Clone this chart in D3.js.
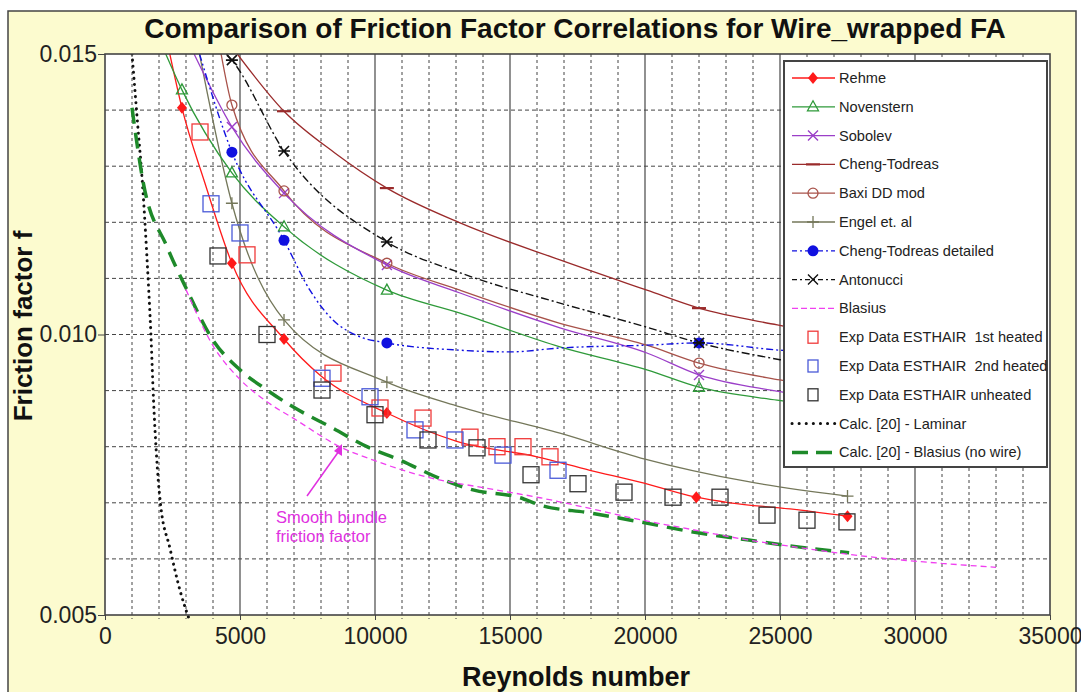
<!DOCTYPE html>
<html>
<head>
<meta charset="utf-8">
<script src="https://cdn.jsdelivr.net/npm/d3@7"></script>
<style>
  html, body { margin: 0; padding: 0; background: #fff; }
  svg { display: block; font-family: Arial, "Liberation Sans", sans-serif; }
  text { white-space: pre; }
</style>
</head>
<body>
<svg id="chart" width="1081" height="692"></svg>
<script>
// ---- data: Reynolds number vs friction factor ----
const xTicks = [0, 5000, 10000, 15000, 20000, 25000, 30000, 35000];
const yTicks = [0.005, 0.010, 0.015];

const rehme = [[2400,0.0150],[2850,0.01404],[3700,0.0127],[4700,0.01127],[6630,0.00992],[8000,0.00926],[10440,0.0086],[13000,0.0081],[16000,0.00782],[17960,0.00758],[19810,0.00737],[21900,0.0071],[23150,0.0070],[25370,0.00689],[27500,0.00676]];
const rehmeMarks = [2850, 4700, 6630, 10440, 21900, 27500];

const novenstern = [[2250,0.0150],[2850,0.01436],[4700,0.01288],[6630,0.01192],[10440,0.01079],[13150,0.01038],[16850,0.00978],[20070,0.00937],[22000,0.00906],[24890,0.00883],[28000,0.00865]];
const novensternMarks = [2850, 4700, 6630, 10440, 22000];

const sobolev = [[3300,0.0150],[4700,0.0137],[6630,0.01252],[10440,0.01124],[13150,0.01074],[16850,0.01012],[20070,0.00967],[22000,0.00928],[25000,0.00898],[28000,0.00875]];
const sobolevMarks = [4700, 6630, 10440, 22000];

const chengTodreas = [[4900,0.0150],[6630,0.01398],[8500,0.01324],[10440,0.01261],[13150,0.01199],[16850,0.01133],[20070,0.01079],[22000,0.01047],[24900,0.01017],[28000,0.0099]];
const chengTodreasMarks = [6630, 10440, 22000];

const baxi = [[4300,0.0150],[4700,0.01409],[6630,0.01256],[10440,0.01127],[13150,0.01079],[16850,0.0102],[20070,0.00981],[22000,0.00949],[25000,0.00919],[28000,0.00897]];
const baxiMarks = [4700, 6630, 10440, 22000];

const engel = [[3500,0.0150],[4700,0.01234],[6630,0.01026],[10440,0.00915],[13150,0.00871],[16850,0.00824],[20000,0.00778],[23780,0.00738],[27500,0.00712]];
const engelMarks = [4700, 6630, 10440, 27500];

const ctDetailed = [[3500,0.0150],[4700,0.01325],[6630,0.01168],[7590,0.01079],[8440,0.01026],[9440,0.00996],[10440,0.00985],[13150,0.00972],[15000,0.00969],[16850,0.00976],[20070,0.00981],[22000,0.00985],[25000,0.00972],[28000,0.00965]];
const ctDetailedMarks = [4700, 6630, 10440, 22000];

const antonucci = [[4500,0.0150],[4700,0.01489],[6630,0.01327],[10440,0.01165],[13150,0.0111],[16850,0.01056],[20070,0.01013],[22000,0.00985],[25000,0.00955],[28000,0.0093]];
const antonucciMarks = [4700, 6630, 10440, 22000];

const blasius = [[3000,0.0108],[4000,0.0098],[5000,0.0092],[6000,0.0088],[7000,0.0085],[8700,0.0080],[10000,0.00775],[12000,0.00745],[14000,0.00727],[16110,0.00709],[17960,0.0069],[19810,0.0067],[21780,0.00652],[23780,0.00634],[25740,0.0062],[27560,0.00608],[29500,0.00598],[31000,0.00592],[33000,0.00585]];

const laminar = [[1000,0.0150],[1200,0.0138],[1400,0.0126],[1550,0.0114],[1700,0.0100],[1800,0.0088],[1900,0.0079],[2050,0.0070],[2400,0.0062],[2800,0.0054],[3150,0.00488]];

const blasiusNoWire = [[1000,0.01404],[1400,0.01275],[2300,0.01156],[3040,0.01079],[4000,0.0099],[5000,0.00937],[6000,0.00901],[6960,0.00871],[8440,0.00833],[9700,0.008],[10930,0.00776],[12520,0.00741],[13630,0.00723],[15370,0.00709],[16110,0.00696],[17960,0.00682],[19810,0.00666],[21780,0.00648],[23780,0.00634],[25740,0.00621],[27560,0.00611]];

const exp1stHeated = [[3519,0.01361],[5259,0.01142],[8444,0.00931],[10185,0.00869],[11778,0.00851],[13518,0.00817],[14518,0.0080],[15481,0.0080],[16481,0.00782]];
const exp2ndHeated = [[3926,0.01233],[5000,0.01181],[8037,0.00922],[9815,0.00889],[11481,0.0083],[12963,0.00812],[14740,0.00785],[16778,0.00758]];
const expUnheated = [[4185,0.0114],[6000,0.0100],[8037,0.00901],[10000,0.00857],[11963,0.00812],[13778,0.00798],[15778,0.0075],[17519,0.00734],[19222,0.00719],[21037,0.0071],[22778,0.0071],[24519,0.00678],[26000,0.00669],[27481,0.00666]];

// ---- layout ----
const svg = d3.select("#chart");
const W = 1081, H = 692;
const x = d3.scaleLinear().domain([0, 35000]).range([105, 1050]);
const y = d3.scaleLinear().domain([0.005, 0.015]).range([615, 54]);
const [x0, x1] = x.range();
const [y0, y1] = y.range();
const FONT = "Arial, 'Liberation Sans', sans-serif";

// page background and outer frame
svg.append("rect").attr("width", W).attr("height", H).attr("fill", "#fff");
svg.append("rect").attr("x", 8).attr("y", 11).attr("width", 1068).attr("height", 690)
  .attr("fill", "#fcfbcf").attr("stroke", "#444").attr("stroke-width", 1.5);

// plot area
svg.append("rect").attr("x", x0).attr("y", y1).attr("width", x1 - x0).attr("height", y0 - y1)
  .attr("fill", "#fff");

// grid
const grid = svg.append("g");
d3.range(1000, 35000, 1000).forEach(v => {
  const major = v % 5000 === 0;
  grid.append("line").attr("x1", x(v)).attr("x2", x(v)).attr("y1", y1).attr("y2", y0 + (major ? 0 : 4))
    .attr("stroke", major ? "#555" : "#444").attr("stroke-width", major ? 1.3 : 1)
    .attr("stroke-dasharray", major ? null : "3,3");
});
d3.range(0.006, 0.0149, 0.001).forEach(v => {
  grid.append("line").attr("x1", x0).attr("x2", x1).attr("y1", y(v)).attr("y2", y(v))
    .attr("stroke", "#444").attr("stroke-width", 1).attr("stroke-dasharray", "4,3");
});

// axes
const xAxis = svg.append("g").attr("transform", `translate(0,${y0})`)
  .call(d3.axisBottom(x).tickValues(xTicks).tickSize(5).tickFormat(d3.format("d")));
xAxis.select(".domain").remove();
xAxis.selectAll("line").attr("stroke", "#444");
xAxis.selectAll("text").attr("font-size", 23).attr("fill", "#222").attr("y", 0).attr("dy", 29)
  .attr("font-family", FONT);

const yAxis = svg.append("g").attr("transform", `translate(${x0},0)`)
  .call(d3.axisLeft(y).tickValues(yTicks).tickSize(7).tickFormat(d3.format(".3f")));
yAxis.select(".domain").remove();
yAxis.selectAll("line").attr("stroke", "#444");
yAxis.selectAll("text").attr("font-size", 23).attr("fill", "#222").attr("x", -8)
  .attr("font-family", FONT);

// curves
const defs = svg.append("defs");
defs.append("clipPath").attr("id", "plotClip").append("rect")
  .attr("x", x0).attr("y", y1).attr("width", x1 - x0).attr("height", y0 - y1 + 12);

const line = d3.line().x(d => x(d[0])).y(d => y(d[1])).curve(d3.curveMonotoneX);
const curves = svg.append("g").attr("clip-path", "url(#plotClip)");

function drawCurve(pts, color, width, dash, round) {
  curves.append("path").attr("d", line(pts)).attr("fill", "none")
    .attr("stroke", color).attr("stroke-width", width)
    .attr("stroke-dasharray", dash || null).attr("stroke-linecap", round ? "round" : "butt");
}

const colors = {
  rehme: "#ff1a1a", novenstern: "#2f9a3a", sobolev: "#9b3fc8", cheng: "#9a2b2b",
  baxi: "#a8524a", engel: "#74775a", ctd: "#1010e0", anton: "#111",
  blasius: "#f040f0", laminar: "#111", noWire: "#1e8a2a",
  exp1: "#f03a3a", exp2: "#4a5ad8", exp0: "#333"
};

drawCurve(laminar, colors.laminar, 3, "0.1,6", true);
drawCurve(blasiusNoWire, colors.noWire, 3.5, "16,9");
drawCurve(blasius, colors.blasius, 1.3, "6,4");
drawCurve(engel, colors.engel, 1.3);
drawCurve(rehme, colors.rehme, 1.3);
drawCurve(novenstern, colors.novenstern, 1.3);
drawCurve(baxi, colors.baxi, 1.3);
drawCurve(sobolev, colors.sobolev, 1.3);
drawCurve(chengTodreas, colors.cheng, 1.3);
drawCurve(ctDetailed, colors.ctd, 1.4, "7,3,2,3,2,3");
drawCurve(antonucci, colors.anton, 1.4, "8,3,2,3");

// marker shapes
function marker(g, type, cx, cy, color) {
  switch (type) {
    case "diamond":
      g.append("path").attr("d", `M${cx},${cy - 6}L${cx + 5},${cy}L${cx},${cy + 6}L${cx - 5},${cy}Z`).attr("fill", color);
      break;
    case "triangle":
      g.append("path").attr("d", `M${cx},${cy - 6}L${cx + 5.5},${cy + 4}L${cx - 5.5},${cy + 4}Z`)
        .attr("fill", "none").attr("stroke", color).attr("stroke-width", 1.3);
      break;
    case "x":
      g.append("path").attr("d", `M${cx - 5},${cy - 5}L${cx + 5},${cy + 5}M${cx - 5},${cy + 5}L${cx + 5},${cy - 5}`)
        .attr("stroke", color).attr("stroke-width", 1.4);
      break;
    case "star":
      g.append("path").attr("d", `M${cx - 5},${cy - 5}L${cx + 5},${cy + 5}M${cx - 5},${cy + 5}L${cx + 5},${cy - 5}M${cx - 6},${cy}L${cx + 6},${cy}`)
        .attr("stroke", color).attr("stroke-width", 1.6);
      break;
    case "dash":
      g.append("path").attr("d", `M${cx - 7},${cy}L${cx + 7},${cy}`).attr("stroke", color).attr("stroke-width", 2.2);
      break;
    case "ocircle":
      g.append("circle").attr("cx", cx).attr("cy", cy).attr("r", 5)
        .attr("fill", "none").attr("stroke", color).attr("stroke-width", 1.3);
      break;
    case "fcircle":
      g.append("circle").attr("cx", cx).attr("cy", cy).attr("r", 5.5).attr("fill", color);
      break;
    case "plus":
      g.append("path").attr("d", `M${cx - 6},${cy}L${cx + 6},${cy}M${cx},${cy - 6}L${cx},${cy + 6}`)
        .attr("stroke", color).attr("stroke-width", 1.3);
      break;
    case "square":
      g.append("rect").attr("x", cx - 8).attr("y", cy - 8).attr("width", 16).attr("height", 16)
        .attr("fill", "none").attr("stroke", color).attr("stroke-width", 1.3);
      break;
    case "smallsquare":
      g.append("rect").attr("x", cx - 5).attr("y", cy - 6).attr("width", 10).attr("height", 12)
        .attr("fill", "none").attr("stroke", color).attr("stroke-width", 1.3);
      break;
  }
}

const marks = svg.append("g");
function drawMarks(pts, res, type, color) {
  res.forEach(re => {
    const p = pts.find(d => d[0] === re);
    if (p) marker(marks, type, x(p[0]), y(p[1]), color);
  });
}
drawMarks(rehme, rehmeMarks, "diamond", colors.rehme);
drawMarks(novenstern, novensternMarks, "triangle", colors.novenstern);
drawMarks(sobolev, sobolevMarks, "x", colors.sobolev);
drawMarks(chengTodreas, chengTodreasMarks, "dash", colors.cheng);
drawMarks(baxi, baxiMarks, "ocircle", colors.baxi);
drawMarks(engel, engelMarks, "plus", colors.engel);
drawMarks(ctDetailed, ctDetailedMarks, "fcircle", colors.ctd);
drawMarks(antonucci, antonucciMarks, "star", colors.anton);

exp1stHeated.forEach(d => marker(marks, "square", x(d[0]), y(d[1]), colors.exp1));
exp2ndHeated.forEach(d => marker(marks, "square", x(d[0]), y(d[1]), colors.exp2));
expUnheated.forEach(d => marker(marks, "square", x(d[0]), y(d[1]), colors.exp0));

// annotation for the smooth-bundle curve
const ann = svg.append("g").attr("fill", "#e030e0");
ann.append("line").attr("x1", 307).attr("y1", 496).attr("x2", 339).attr("y2", 451)
  .attr("stroke", "#e030e0").attr("stroke-width", 1.5);
ann.append("path").attr("d", "M342,444 L342,456 L334,451 Z");
ann.append("text").attr("x", 276).attr("y", 523).attr("font-size", 16.5).text("Smooth bundle");
ann.append("text").attr("x", 276).attr("y", 542).attr("font-size", 16.5).text("friction factor");

// plot frame
svg.append("rect").attr("x", x0).attr("y", y1).attr("width", x1 - x0).attr("height", y0 - y1)
  .attr("fill", "none").attr("stroke", "#444").attr("stroke-width", 1.6);

// legend
const legendItems = [
  { label: "Rehme", color: colors.rehme, m: "diamond" },
  { label: "Novenstern", color: colors.novenstern, m: "triangle" },
  { label: "Sobolev", color: colors.sobolev, m: "x" },
  { label: "Cheng-Todreas", color: colors.cheng, m: "dash" },
  { label: "Baxi DD mod", color: colors.baxi, m: "ocircle" },
  { label: "Engel et. al", color: colors.engel, m: "plus" },
  { label: "Cheng-Todreas detailed", color: colors.ctd, m: "fcircle", dash: "5,3,2,3" },
  { label: "Antonucci", color: colors.anton, m: "x", dash: "5,3,2,3" },
  { label: "Blasius", color: colors.blasius, dash: "6,3" },
  { label: "Exp Data ESTHAIR  1st heated", color: colors.exp1, m: "smallsquare", noLine: true },
  { label: "Exp Data ESTHAIR  2nd heated", color: colors.exp2, m: "smallsquare", noLine: true },
  { label: "Exp Data ESTHAIR unheated", color: colors.exp0, m: "smallsquare", noLine: true },
  { label: "Calc. [20] - Laminar", color: colors.laminar, dash: "0.1,7", width: 3, round: true },
  { label: "Calc. [20] - Blasius (no wire)", color: colors.noWire, dash: "16,8", width: 3.5 }
];
const lg = svg.append("g");
lg.append("rect").attr("x", 784).attr("y", 61).attr("width", 263).attr("height", 406)
  .attr("fill", "#fff").attr("stroke", "#444").attr("stroke-width", 2);
legendItems.forEach((it, i) => {
  const cy = 78 + i * 28.8;
  if (!it.noLine) {
    lg.append("line").attr("x1", 792).attr("x2", 835).attr("y1", cy).attr("y2", cy)
      .attr("stroke", it.color).attr("stroke-width", it.width || 1.3)
      .attr("stroke-dasharray", it.dash || null).attr("stroke-linecap", it.round ? "round" : "butt");
  }
  if (it.m) marker(lg, it.m, 813, cy, it.color);
  lg.append("text").attr("x", 839).attr("y", cy + 5).attr("font-size", 14.6).attr("fill", "#222").text(it.label);
});

// titles
svg.append("text").attr("x", 575).attr("y", 38).attr("text-anchor", "middle")
  .attr("font-size", 28).attr("font-weight", "bold").attr("fill", "#111")
  .text("Comparison of Friction Factor Correlations for Wire_wrapped FA");
svg.append("text").attr("x", 576).attr("y", 686).attr("text-anchor", "middle")
  .attr("font-size", 27).attr("font-weight", "bold").attr("fill", "#111").text("Reynolds number");
svg.append("text").attr("transform", "translate(32,326) rotate(-90)").attr("text-anchor", "middle")
  .attr("font-size", 26).attr("font-weight", "bold").attr("fill", "#111").text("Friction factor f");
</script>
</body>
</html>
